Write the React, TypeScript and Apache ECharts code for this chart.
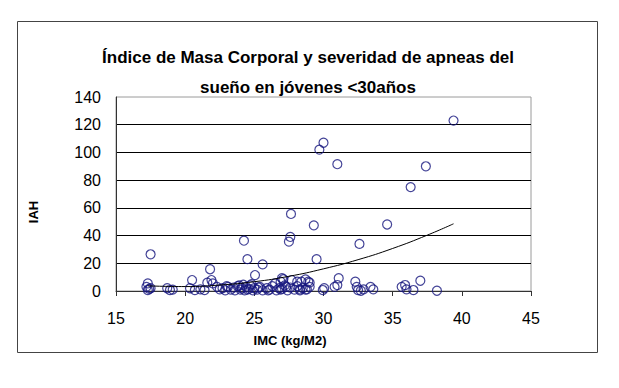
import React, { useEffect, useRef } from "react";
import * as echarts from "echarts";

const titleLines = ["Índice de Masa Corporal y severidad de apneas del", "sueño en jóvenes <30años"];
const xName = "IMC (kg/M2)";
const yName = "IAH";

// IMC (kg/m2) of each patient
const imc = [
  17.5, 17.3, 17.2, 17.5, 17.3, 17.4, 18.7, 18.9, 19.1,
  20.5, 20.35, 20.7, 21.1, 21.4, 21.8, 21.9, 21.6, 22.0, 22.3, 22.5,
  22.7, 22.9, 23.1, 23.3, 23.5, 23.6, 23.8, 24.0, 24.1, 24.3, 24.4, 24.6, 24.7, 24.9, 25.0,
  25.2, 25.4, 25.6, 25.9, 26.1, 26.3, 26.6, 26.8, 27.0, 27.2, 27.4, 27.6, 27.9, 28.1, 28.3,
  28.5, 28.7, 29.0, 23.0, 23.9, 24.5, 25.3, 26.0, 26.9, 27.3,
  24.2, 24.8, 25.05, 25.6, 26.5, 26.9, 27.0, 27.1, 27.7, 28.1, 28.3, 28.7, 28.9, 29.0, 28.4, 28.8,
  24.25, 24.5, 27.6, 27.5, 27.65, 29.3, 29.5, 29.7, 30.0, 31.0,
  29.95, 30.05, 30.8, 31.1, 31.0, 32.3, 32.4, 32.5, 32.7, 32.9, 32.6, 33.4, 33.6, 34.6,
  35.65, 35.9, 36.0, 36.5, 36.3, 37.0, 37.4, 38.2, 39.4,
];

// IAH (apnea-hypopnea index) of each patient
const iah = [
  26.5, 5.5, 3, 2, 0.7, 1.5, 2, 0.7, 1,
  7.9, 2, 0.7, 1.2, 0.7, 15.7, 7.9, 6, 5.5, 3, 1.2,
  2, 0.5, 3, 1, 2.5, 0.5, 3.5, 1, 2, 0.5, 3, 1.5, 4, 0.5, 2,
  1, 3, 0.5, 2, 1, 3.5, 0.5, 2, 1.5, 4, 0.5, 2.5, 1, 3.5, 0.5,
  2, 1, 3, 3.5, 4, 1, 2.5, 0.5, 1, 3,
  4.5, 5, 11.5, 19.2, 5.5, 6.7, 9.2, 8.5, 7.9, 6.7, 1.2, 8.4, 6.7, 6, 6.7, 1.2,
  36.3, 23, 39, 35.6, 55.6, 47.4, 23, 102, 107, 91.5,
  0.7, 2, 3, 9.2, 4.3, 6.7, 3, 0.7, 0.2, 1.2, 34, 3, 1.2, 48,
  3, 4.3, 1.2, 0.7, 75, 7.4, 90, 0.2, 123,
];

// trend line
const trendImc = [17.3, 20, 22.5, 25, 27.5, 30, 32.5, 35, 37.5, 39.4];
const trendIah = [3.7, 3.2, 4.3, 6.7, 10.6, 16, 22.6, 30.7, 40.3, 48.5];

const FONT = "'Liberation Sans', Arial, sans-serif";

export default function App() {
  const ref = useRef<HTMLDivElement>(null);
  useEffect(() => {
    if (!ref.current) return;
    const chart = echarts.init(ref.current, undefined, { renderer: "svg" });
    const points = imc.map((x, i) => [x, iah[i]]);
    const trend = trendImc.map((x, i) => [x, trendIah[i]]);
    chart.setOption({
      animation: false,
      backgroundColor: "#ffffff",
      textStyle: { fontFamily: FONT },
      grid: {
        left: 116,
        top: 97,
        width: 415,
        height: 194,
        show: true,
        borderColor: "#9a9a9a",
        borderWidth: 1,
        backgroundColor: "#ffffff",
      },
      xAxis: {
        type: "value",
        min: 15,
        max: 45,
        interval: 5,
        axisLine: { show: true, onZero: false, lineStyle: { color: "#333", width: 1 } },
        axisTick: { show: true, inside: false, length: 5, lineStyle: { color: "#333" } },
        axisLabel: { fontSize: 16, color: "#000", margin: 19, fontFamily: FONT },
        splitLine: { show: false },
      },
      yAxis: {
        type: "value",
        min: 0,
        max: 140,
        interval: 20,
        axisLine: { show: true, lineStyle: { color: "#333", width: 1 } },
        axisTick: { show: false },
        axisLabel: { fontSize: 16, color: "#000", margin: 15, fontFamily: FONT },
        splitLine: { show: true, showMaxLine: false, lineStyle: { color: "#000", width: 1 } },
      },
      graphic: [
        {
          type: "rect",
          shape: { x: 17.5, y: 21.5, width: 580, height: 331 },
          style: { fill: "none", stroke: "#444", lineWidth: 1 },
          z: -10,
          silent: true,
        },
        {
          type: "text",
          x: 308,
          y: 57,
          style: {
            text: titleLines[0],
            fill: "#000",
            font: `bold 17px ${FONT}`,
            align: "center",
            verticalAlign: "middle",
          },
        },
        {
          type: "text",
          x: 308,
          y: 87,
          style: {
            text: titleLines[1],
            fill: "#000",
            font: `bold 17px ${FONT}`,
            align: "center",
            verticalAlign: "middle",
          },
        },
        {
          type: "text",
          x: 290,
          y: 340,
          style: {
            text: xName,
            fill: "#000",
            font: `bold 13px ${FONT}`,
            align: "center",
            verticalAlign: "middle",
          },
        },
        {
          type: "text",
          x: 33,
          y: 212,
          rotation: Math.PI / 2,
          style: {
            text: yName,
            fill: "#000",
            font: `bold 13px ${FONT}`,
            align: "center",
            verticalAlign: "middle",
          },
        },
      ],
      series: [
        {
          type: "scatter",
          data: points,
          symbol: "circle",
          symbolSize: 9,
          itemStyle: { color: "rgba(0,0,0,0)", borderColor: "#16167e", borderWidth: 1.2 },
          z: 3,
        },
        {
          type: "line",
          data: trend,
          smooth: true,
          showSymbol: false,
          symbol: "none",
          lineStyle: { color: "#000", width: 1 },
          z: 4,
        },
      ],
    });
    return () => chart.dispose();
  }, []);
  return (
    <div
      ref={ref}
      style={{ position: "absolute", left: 0, top: 0, width: 619, height: 388 }}
    />
  );
}
